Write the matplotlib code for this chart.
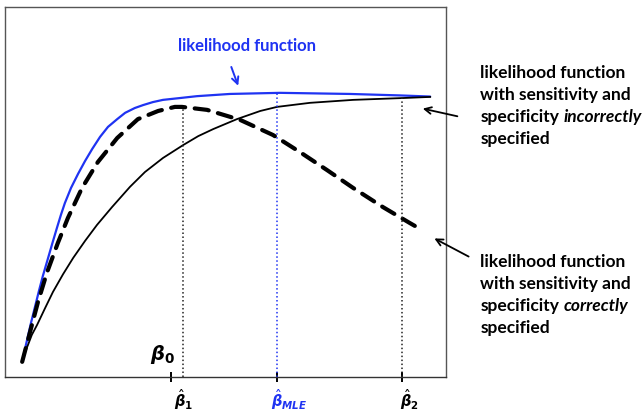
import matplotlib
matplotlib.use("Agg")
import matplotlib.pyplot as plt

plt.rcParams['font.family'] = ['Lato', 'DejaVu Sans']
plt.rcParams['mathtext.fontset'] = 'dejavusans'

BLUE = '#1f33f2'

# likelihood curves (beta on 0..10, likelihood on 0..1)
true_x = [0.39, 0.48, 0.59, 0.68, 0.77, 0.86, 0.98, 1.07, 1.18, 1.27, 1.36,
          1.50, 1.66, 1.82, 1.98, 2.16, 2.34, 2.55, 2.73, 2.95, 3.14, 3.36,
          3.59, 3.98, 4.36, 5.11, 6.25, 7.84, 8.98, 9.66]
true_y = [0.041, 0.089, 0.146, 0.189, 0.232, 0.273, 0.322, 0.359, 0.403, 0.438,
          0.470, 0.511, 0.549, 0.584, 0.616, 0.649, 0.676, 0.697, 0.714, 0.727,
          0.735, 0.743, 0.749, 0.754, 0.759, 0.765, 0.768, 0.765, 0.761, 0.758]

wrong_x = [0.39, 0.45, 0.52, 0.61, 0.73, 0.91, 1.09, 1.32, 1.55, 1.82, 2.09,
           2.43, 2.84, 3.18, 3.59, 4.05, 4.39, 4.73, 5.27, 5.80, 6.18, 6.93,
           7.91, 9.05, 9.66]
wrong_y = [0.041, 0.065, 0.086, 0.114, 0.141, 0.186, 0.230, 0.278, 0.322, 0.368,
           0.411, 0.459, 0.514, 0.554, 0.592, 0.627, 0.651, 0.670, 0.697, 0.719,
           0.730, 0.741, 0.749, 0.754, 0.757]

right_x = [0.39, 0.57, 0.75, 0.95, 1.20, 1.43, 1.75, 2.11, 2.55, 3.02, 3.48,
           3.86, 4.02, 4.59, 5.34, 6.09, 6.70, 7.32, 7.91, 8.59, 9.20, 9.39]
right_y = [0.041, 0.122, 0.203, 0.281, 0.362, 0.430, 0.511, 0.581, 0.646, 0.697,
           0.719, 0.730, 0.730, 0.722, 0.695, 0.654, 0.608, 0.559, 0.511, 0.459,
           0.416, 0.403]

beta0 = 3.77
beta1 = 4.05
beta_mle = 6.18
beta2 = 9.02

fig = plt.figure(figsize=(6.44, 4.12), dpi=100)
ax = fig.add_axes([5 / 644, 35 / 412, 441 / 644, 370 / 412])
ax.set_xlim(0, 10.02)
ax.set_ylim(0, 1)
ax.set_yticks([])
for s in ax.spines.values():
    s.set_color('#555555')
    s.set_linewidth(1.0)
ax.spines['bottom'].set_color('#333333')

ax.plot(true_x, true_y, color=BLUE, lw=1.6, solid_capstyle='round',
        solid_joinstyle='round')
ax.plot(wrong_x, wrong_y, color='black', lw=1.3, solid_joinstyle='round')
ax.plot(right_x, right_y, color='black', lw=3.0, dashes=(3.4, 2.3),
        dash_capstyle='round', dash_joinstyle='round')

# dotted drop lines at the maxima
ax.plot([beta1, beta1], [0, max(right_y)], color='#222222', lw=1.1, ls=(0, (1, 1.6)))
ax.plot([beta_mle, beta_mle], [0, max(true_y)], color=BLUE, lw=1.1, ls=(0, (1, 1.6)))
ax.plot([beta2, beta2], [0, max(wrong_y)], color='#222222', lw=1.1, ls=(0, (1, 1.6)))

ax.set_xticks([beta0, beta_mle, beta2])
ax.set_xticklabels([])
ax.tick_params(axis='x', direction='inout', length=7.5, width=1.4, color='black')
ax.xaxis.get_major_ticks()[1].tick1line.set_color(BLUE)

ax.text(beta0 - 0.18, 0.062, r'$\boldsymbol{\beta}_\mathbf{0}$', fontsize=14,
        ha='center', va='center')
ax.text(beta1 + 0.02, -0.06, r'$\hat{\boldsymbol{\beta}}_\mathbf{1}$', fontsize=10.5,
        ha='center', va='center', clip_on=False)
ax.text(beta_mle - 0.13, -0.06, r'$\hat{\boldsymbol{\beta}}_{\boldsymbol{MLE}}$',
        fontsize=10.5, ha='left', va='center', color=BLUE, clip_on=False)
ax.text(beta2 - 0.04, -0.06, r'$\hat{\boldsymbol{\beta}}_\mathbf{2}$', fontsize=10.5,
        ha='left', va='center', clip_on=False)

ax.text(5.5, 0.895, 'likelihood function', color=BLUE, fontsize=12,
        fontweight='bold', ha='center', va='center')
ax.annotate('', xy=(5.32, 0.78), xytext=(5.12, 0.845),
            arrowprops=dict(arrowstyle='->', color=BLUE, lw=1.4,
                            mutation_scale=12))

ax.annotate('', xy=(9.43, 0.727), xytext=(10.34, 0.703), annotation_clip=False,
            arrowprops=dict(arrowstyle='->', color='black', lw=1.3,
                            mutation_scale=12))
ax.annotate('', xy=(9.70, 0.378), xytext=(10.59, 0.322), annotation_clip=False,
            arrowprops=dict(arrowstyle='->', color='black', lw=1.3,
                            mutation_scale=12))

tx = 10.80
blocks = [(0.822, 'incorrectly'), (0.311, 'correctly')]
step = 0.0595
for y0, word in blocks:
    ax.text(tx, y0, 'likelihood function', fontsize=12.5, fontweight='bold',
            va='center', clip_on=False)
    ax.text(tx, y0 - step, 'with sensitivity and', fontsize=12.5,
            fontweight='bold', va='center', clip_on=False)
    t = ax.text(tx, y0 - 2 * step, 'specificity', fontsize=12.5,
                fontweight='bold', va='center', clip_on=False)
    ax.annotate(word, xy=(1, 0), xycoords=t, xytext=(3, 0),
                textcoords='offset points', fontsize=12.5, fontweight='bold',
                fontstyle='italic', va='bottom', ha='left', annotation_clip=False)
    ax.text(tx, y0 - 3 * step, 'specified', fontsize=12.5, fontweight='bold',
            va='center', clip_on=False)

fig.savefig('out.png', dpi=100)
